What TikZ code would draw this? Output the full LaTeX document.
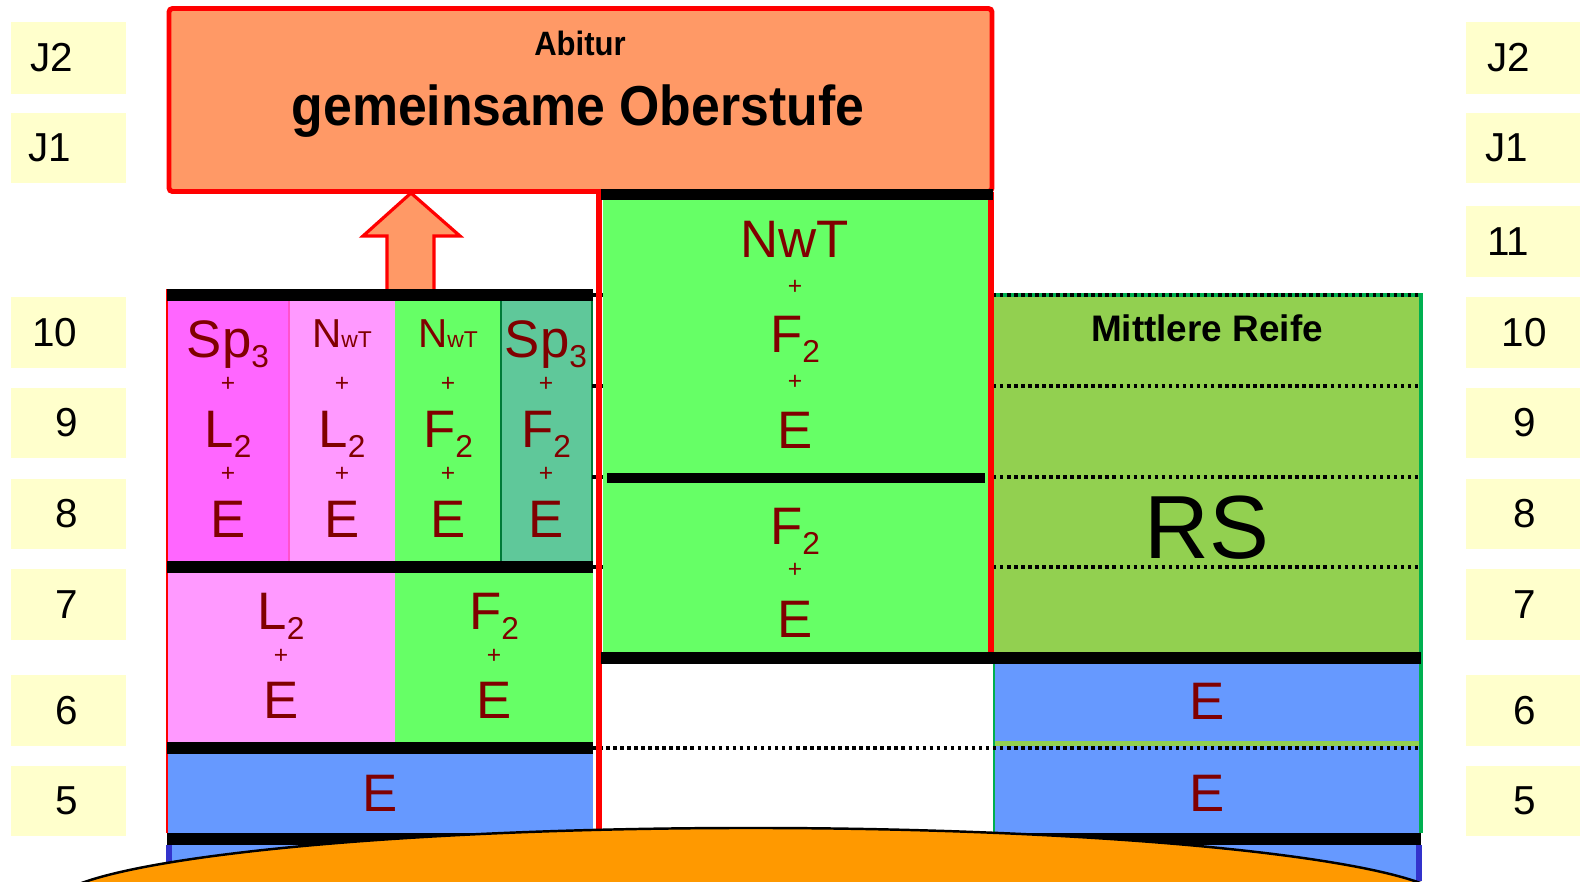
\documentclass[tikz,border=0pt]{standalone}
\usepackage{fontspec}
\setmainfont{Liberation Sans}
\usetikzlibrary{calc}
\definecolor{gradebg}{HTML}{FFFFCC}
\definecolor{abiorange}{HTML}{FF9966}
\definecolor{spmag}{HTML}{FF66FF}
\definecolor{lpink}{HTML}{FF99FF}
\definecolor{fgreen}{HTML}{66FF66}
\definecolor{spteal}{HTML}{5FC89A}
\definecolor{eblue}{HTML}{6699FF}
\definecolor{rsgreen}{HTML}{92D050}
\definecolor{rsborder}{HTML}{00B050}
\definecolor{subjred}{HTML}{800000}
\definecolor{sunorange}{HTML}{FF9900}
\definecolor{edgeblue}{HTML}{3333CC}
\newcommand{\low}[1]{\raisebox{-0.1cm}{\fontsize{9}{9}\selectfont #1}}
\newcommand{\nwt}{{\fontsize{11.5}{12}\selectfont N\fontsize{6.5}{7}\selectfont wT}}
\newcommand{\narrow}[1]{\scalebox{0.92}[1]{#1}}
\tikzset{%
  grade/.style={fill=gradebg},
  gradetxt/.style={font=\fontsize{11.5}{12}\selectfont, inner sep=0pt},
  subj/.style={text=subjred, font=\fontsize{15}{16}\selectfont, anchor=base, inner sep=0pt},
  plus/.style={text=subjred, font=\fontsize{7}{7}\selectfont, inner sep=0pt},
  head/.style={font=\bfseries\fontsize{9.6}{10}\selectfont, anchor=base, inner sep=0pt},
  bighead/.style={font=\bfseries\fontsize{16}{17}\selectfont, anchor=base, inner sep=0pt},
  bar/.style={fill=black},
  dots/.style={line width=0.9pt, dash pattern=on 1pt off 1pt},
  redline/.style={red, line width=1.6pt}
}
\begin{document}
\begin{tikzpicture}[x=0.01cm, y=-0.01cm]
  \useasboundingbox (0,0) rectangle (1580,881);
  \clip (0,0) rectangle (1580,881);

  \foreach \gn/\ya/\yb/\xl/\xr in {J2/22/94/52/1509, J1/113/183/50/1507, 10/297/368/55/1524, 9/388/458/67/1525, 8/479/549/67/1525, 7/569/640/67/1525, 6/675/746/67/1525, 5/766/836/67/1525}{
    \fill[grade] (11,\ya) rectangle (126,\yb);
    \fill[grade] (1466,\ya) rectangle (1580,\yb);
    \node[gradetxt] (gl\gn) at (\xl,{(\ya+\yb)/2}) {\gn};
    \node[gradetxt] (gr\gn) at (\xr,{(\ya+\yb)/2}) {\gn};
  }
  \fill[grade] (1466,206) rectangle (1580,277);
  \node[gradetxt] (gr11) at (1508,241.5) {11};

  \fill[rsgreen] (993,295) rectangle (1421,652);
  \fill[eblue] (993,664) rectangle (1421,833);
  \fill[rsgreen] (993,741) rectangle (1421,746);
  \draw[rsborder, line width=1.3pt] (993,295) -- (1421,295) -- (1421,833);
  \draw[rsborder, line width=0.8pt] (994,652) -- (994,833);

  \fill[spmag] (167,301) rectangle (289,561);
  \fill[lpink] (289,301) rectangle (395,561);
  \fill[fgreen] (395,301) rectangle (501,561);
  \fill[spteal] (501,301) rectangle (593,561);
  \draw[spmag!80!red, line width=0.5pt] (289,301) -- (289,561);
  \draw[rsborder!70!black, line width=0.6pt] (501,301) -- (501,561) (592,301) -- (592,561);
  \fill[lpink] (167,573) rectangle (395,742);
  \fill[fgreen] (395,573) rectangle (593,742);
  \fill[eblue] (167,754) rectangle (593,833);
  \draw[red, line width=0.6pt] (167,289) -- (167,833);

  \foreach \y in {295,386,477,567,748}
    \draw[dots] (592,\y) -- (1421,\y);

  \fill[fgreen] (603,200) rectangle (988,652);
  \draw[redline] (599,192) -- (599,833);
  \draw[redline] (991,192) -- (991,652);

  \draw[red, line width=1.4pt, fill=abiorange, rounded corners=1pt] (169,8.5) rectangle (992,191.5);
  \draw[red, line width=0.9pt, fill=abiorange] (387,292) -- (387,236) -- (363,236) -- (411,193) -- (460,236) -- (434,236) -- (434,292) -- cycle;

  \fill[bar] (167,289) rectangle (593,301);
  \fill[bar] (601,189) rectangle (993,200);
  \fill[bar] (167,561) rectangle (593,573);
  \fill[bar] (167,742) rectangle (593,754);
  \fill[bar] (607,473) rectangle (985,483);
  \fill[bar] (601,652) rectangle (1421,664);
  \fill[bar] (167,833) rectangle (1421,845);

  \fill[eblue] (167,845) rectangle (1421,881);
  \draw[edgeblue, line width=1.5pt] (169,845) -- (169,881) (1419,845) -- (1419,881);
  \draw[fill=sunorange, line width=0.7pt] (751,906) ellipse [x radius=7cm, y radius=0.78cm];

  \node[head] (abitur) at (580,55) {\narrow{Abitur}};
  \node[bighead] (oberstufe) at (578,125) {\narrow{gemeinsame Oberstufe}};

  \foreach \x/\top/\tb/\mid [count=\i] in {228/{Sp\low{3}}/357/{L\low{2}}, 342/\nwt/347/{L\low{2}}, 448/\nwt/347/{F\low{2}}, 546/{Sp\low{3}}/357/{F\low{2}}}{
    \node[subj] (top\i) at (\x,\tb) {\top};
    \node[plus] (pa\i) at (\x,384) {+};
    \node[subj] (mid\i) at (\x,447) {\mid};
    \node[plus] (pb\i) at (\x,474) {+};
    \node[subj] (e\i) at (\x,537) {E};
  }
  \node[subj] (lsec) at (281,629) {L\low{2}};
  \node[plus] (lplus) at (281,656) {+};
  \node[subj] (le) at (281,718) {E};
  \node[subj] (fsec) at (494,629) {F\low{2}};
  \node[plus] (fplus) at (494,656) {+};
  \node[subj] (fe) at (494,718) {E};
  \node[subj] (efive) at (380,811) {E};

  \node[subj] (nwt) at (795,257) {NwT};
  \node[plus] (mpa) at (795,287) {+};
  \node[subj] (mfa) at (795,352) {F\low{2}};
  \node[plus] (mpb) at (795,382) {+};
  \node[subj] (mea) at (795,448) {E};
  \node[subj] (mfb) at (795,544) {F\low{2}};
  \node[plus] (mpc) at (795,570) {+};
  \node[subj] (meb) at (795,637) {E};

  \node[head, font=\bfseries\fontsize{10.5}{12}\selectfont] (reife) at (1207,341) {Mittlere Reife};
  \node[anchor=base, inner sep=0pt, font=\fontsize{25.5}{28}\selectfont] (rs) at (1207,558) {RS};
  \node[subj] (rea) at (1207,719) {E};
  \node[subj] (reb) at (1207,811) {E};
\end{tikzpicture}
\end{document}
